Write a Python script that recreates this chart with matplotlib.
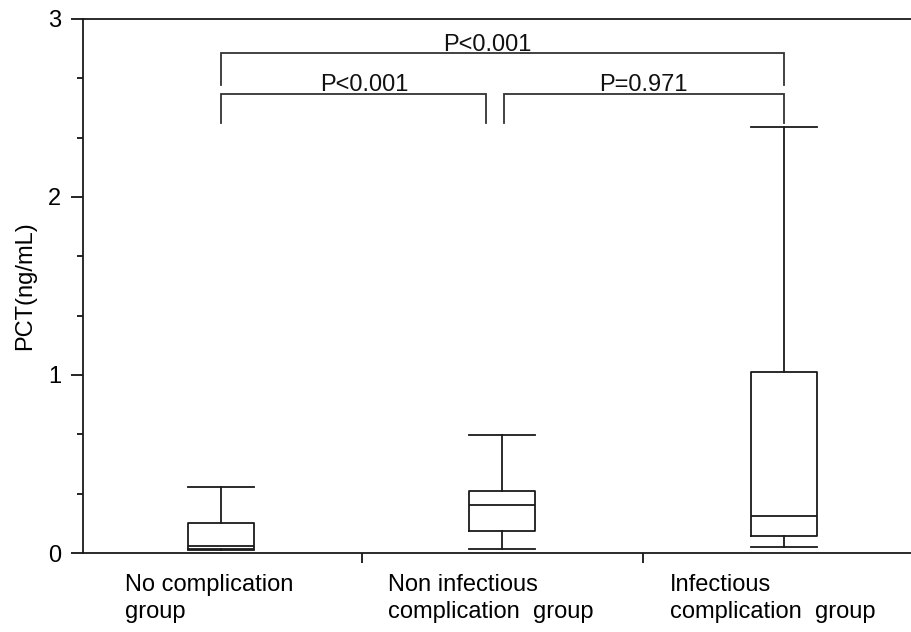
import matplotlib.pyplot as plt
from matplotlib.ticker import MultipleLocator, FixedLocator

plt.rcParams['font.family'] = ['Liberation Sans', 'DejaVu Sans']

groups = ["No complication\ngroup", "Non infectious\ncomplication  group", "Infectious\ncomplication  group"]
whis_lo = [0.015, 0.024, 0.035]
q1 = [0.02, 0.124, 0.096]
med = [0.042, 0.27, 0.208]
q3 = [0.17, 0.347, 1.018]
whis_hi = [0.372, 0.663, 2.395]

# significance brackets: (left group, right group, bar height, leg bottom, label)
brackets = [
    (1.0, 3.0, 2.81, 2.63, "P<0.001"),
    (1.0, 1.94, 2.58, 2.415, "P<0.001"),
    (2.005, 3.0, 2.58, 2.415, "P=0.971"),
]

FS = 17

fig = plt.figure(figsize=(9.12, 6.32), dpi=100)
ax = fig.add_axes([0.091, 0.125, 0.909, 0.845])

stats = []
for i in range(len(groups)):
    stats.append(dict(med=med[i], q1=q1[i], q3=q3[i],
                      whislo=whis_lo[i], whishi=whis_hi[i], fliers=[]))

lc = '#1a1a1a'
ax.bxp(stats, positions=[1, 2, 3], widths=0.235, showfliers=False,
       boxprops=dict(color=lc, linewidth=1.3),
       medianprops=dict(color=lc, linewidth=1.3),
       whiskerprops=dict(color=lc, linewidth=1.3),
       capprops=dict(color=lc, linewidth=1.3),
       capwidths=0.235)

bc = '#333333'
for x0, x1, yb, yl, lab in brackets:
    ax.plot([x0, x0, x1, x1], [yl, yb, yb, yl], color=bc, lw=1.3,
            solid_joinstyle='miter', clip_on=False)
for (x0, x1, yb, yl, lab), dy, dx in zip(brackets, [0.012, 0.017, 0.017], [-0.052, 0.038, 0.0]):
    ax.text((x0 + x1) / 2 + dx, yb + dy, lab, ha='center', va='baseline',
            fontsize=FS, color='#111111')

ax.set_xlim(0.51, 3.455)
ax.set_ylim(0, 3)

ax.spines['right'].set_visible(False)
for s in ['left', 'top', 'bottom']:
    ax.spines[s].set_linewidth(1.3)
    ax.spines[s].set_color(lc)

ax.yaxis.set_major_locator(MultipleLocator(1))
ax.yaxis.set_minor_locator(MultipleLocator(1 / 3))
ax.tick_params(axis='y', which='major', length=8.5, width=1.2, pad=7,
               labelsize=FS, direction='out')
ax.tick_params(axis='y', which='minor', length=4.3, width=1.2, direction='out')

ax.xaxis.set_major_locator(FixedLocator([1.5, 2.5]))
ax.xaxis.set_minor_locator(FixedLocator([]))
ax.set_xticklabels([])
ax.tick_params(axis='x', which='major', length=7, width=1.2, direction='out')

for i, g in enumerate(groups):
    ax.text(i + 1 - 0.04, -0.039, g, transform=ax.get_xaxis_transform(),
            ha='center', va='top', multialignment='left', fontsize=FS,
            linespacing=1.32)

ax.set_ylabel("PCT(ng/mL)", fontsize=FS)
ax.yaxis.set_label_coords(-0.057, 0.5)

fig.savefig("out.png", dpi=100)
